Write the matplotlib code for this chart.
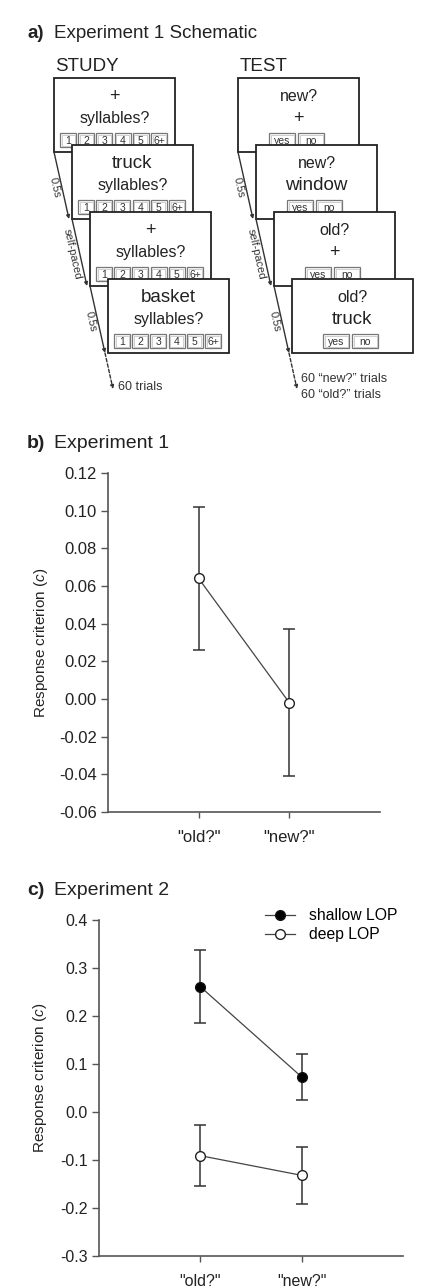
import matplotlib
matplotlib.use("Agg")
import matplotlib.pyplot as plt
import numpy as np
from matplotlib.patches import Rectangle

# ============================================================
# data
# ============================================================
conditions = ['"old?"', '"new?"']

exp1_mean = [0.064, -0.002]
exp1_err = [0.038, 0.039]

shallow_mean = [0.261, 0.073]
shallow_err = [0.076, 0.048]
deep_mean = [-0.091, -0.132]
deep_err = [0.064, 0.060]

exp1_yticks = [-0.06, -0.04, -0.02, 0.00, 0.02, 0.04, 0.06, 0.08, 0.10, 0.12]
exp2_yticks = [-0.3, -0.2, -0.1, 0.0, 0.1, 0.2, 0.3, 0.4]

# schematic content
study_line1 = ["+", "truck", "+", "basket"]
study_line2 = ["syllables?"] * 4
study_buttons = ["1", "2", "3", "4", "5", "6+"]
test_line1 = ["new?", "new?", "old?", "old?"]
test_line2 = ["+", "window", "+", "truck"]
test_buttons = ["yes", "no"]
timing = ["0.5s", "self-paced", "0.5s"]

# ============================================================
# style
# ============================================================
plt.rcParams["font.family"] = ["Liberation Sans", "DejaVu Sans"]
plt.rcParams["mathtext.fontset"] = "custom"
plt.rcParams["mathtext.rm"] = "Liberation Sans"
plt.rcParams["mathtext.it"] = "Liberation Sans:italic"

TXT = "#222222"
AX = "#555555"
W, H = 433, 1288

fig = plt.figure(figsize=(W / 100, H / 100), dpi=100)

# overlay in pixel coordinates for schematic and panel titles
ax_a = fig.add_axes([0, 0, 1, 1])
ax_a.set_xlim(0, W)
ax_a.set_ylim(H, 0)
ax_a.axis("off")

for letter, title, y, fs in [("a)", "Experiment 1 Schematic", 33, 13.5),
                             ("b)", "Experiment 1", 443, 14),
                             ("c)", "Experiment 2", 890, 14)]:
    ax_a.text(27, y, letter, fontsize=fs, fontweight="bold", color=TXT,
              va="center", ha="left")
    ax_a.text(54, y, title, fontsize=fs, color=TXT, va="center", ha="left")

# ------------------------------------------------------------
# schematic
# ------------------------------------------------------------
BOX_W, BOX_H = 121, 74
STEP_X, STEP_Y = 18, 67
BOX_Y0 = 78


def draw_column(x0, line1, line2, fs1, fs2, buttons, btn_x, btn_w):
    for i in range(4):
        bx = x0 + i * STEP_X
        by = BOX_Y0 + i * STEP_Y
        z = 2 + i * 3
        ax_a.add_patch(Rectangle((bx, by), BOX_W, BOX_H, facecolor="white",
                                 edgecolor="#222222", lw=1.3, zorder=z))
        ax_a.text(bx + BOX_W / 2, by + 18, line1[i], fontsize=fs1[i],
                  color=TXT, ha="center", va="center", zorder=z + 1)
        ax_a.text(bx + BOX_W / 2, by + 40, line2[i], fontsize=fs2[i],
                  color=TXT, ha="center", va="center", zorder=z + 1)
        for lab, ox, w in zip(buttons, btn_x, btn_w):
            ax_a.add_patch(Rectangle((bx + ox, by + 55), w, 14,
                                     facecolor="white", edgecolor="#777777",
                                     lw=0.9, zorder=z + 1))
            ax_a.add_patch(Rectangle((bx + ox + 1.5, by + 56.5), w - 3, 11,
                                     facecolor="none", edgecolor="#bbbbbb",
                                     lw=0.5, zorder=z + 1))
            ax_a.text(bx + ox + w / 2, by + 62.5, lab, fontsize=7.5,
                      color="#333333", ha="center", va="center", zorder=z + 2)

    # timing arrows between screens
    for i in range(3):
        x1 = x0 + i * STEP_X
        y1 = BOX_Y0 + i * STEP_Y + BOX_H
        x2 = x0 + (i + 1) * STEP_X - 3
        y2 = y1 + STEP_Y
        ax_a.annotate("", xy=(x2, y2), xytext=(x1, y1),
                      arrowprops=dict(arrowstyle="-|>", color="#333333",
                                      lw=1.0, mutation_scale=5,
                                      shrinkA=0, shrinkB=0), zorder=20)
        d = np.array([x2 - x1, y2 - y1], dtype=float)
        d /= np.hypot(*d)
        ang = np.degrees(np.arctan2(d[1], d[0]))
        mx, my = (x1 + x2) / 2 - 7 * d[1], (y1 + y2) / 2 + 7 * d[0]
        ax_a.text(mx, my, timing[i], fontsize=8, color="#333333",
                  rotation=-ang, rotation_mode="anchor",
                  ha="center", va="center", zorder=20)

    # dashed continuation
    x1 = x0 + 3 * STEP_X - 3
    y1 = BOX_Y0 + 3 * STEP_Y + BOX_H
    ax_a.annotate("", xy=(x1 + 8, y1 + 36), xytext=(x1, y1),
                  arrowprops=dict(arrowstyle="-|>", color="#333333", lw=1.0,
                                  ls=(0, (2.5, 1.5)), mutation_scale=5,
                                  shrinkA=0, shrinkB=0), zorder=20)
    return x1 + 12, y1


# study column
sx, sy = draw_column(54, study_line1, study_line2,
                     [13, 13.5, 13, 13.5], [11.5] * 4,
                     study_buttons, [6 + k * 18.2 for k in range(6)], [16] * 6)
ax_a.text(55, 66, "STUDY", fontsize=13.5, color=TXT, va="center", ha="left")
ax_a.text(sx + 1, sy + 34, "60 trials", fontsize=9, color="#333333",
          va="center", ha="left")

# test column
tx, ty = draw_column(238, test_line1, test_line2,
                     [11.5] * 4, [13, 13.5, 13, 13.5],
                     test_buttons, [31, 60], [26, 26])
ax_a.text(240, 66, "TEST", fontsize=13.5, color=TXT, va="center", ha="left")
ax_a.text(tx, ty + 26, "60 \u201cnew?\u201d trials", fontsize=9,
          color="#333333", va="center", ha="left")
ax_a.text(tx, ty + 42, "60 \u201cold?\u201d trials", fontsize=9,
          color="#333333", va="center", ha="left")


# ------------------------------------------------------------
# criterion panels
# ------------------------------------------------------------
def style_axis(ax, yticks, fmt, fs, lab_x, lab_y):
    for s in ["top", "right"]:
        ax.spines[s].set_visible(False)
    for s in ["left", "bottom"]:
        ax.spines[s].set_color(AX)
        ax.spines[s].set_linewidth(1.2)
    ax.set_xlim(0, 3)
    ax.set_xticks([1, 2])
    ax.set_xticklabels(conditions, fontsize=fs, color=TXT)
    ax.set_yticks(yticks)
    ax.set_yticklabels([fmt % v for v in yticks], fontsize=fs, color=TXT)
    ax.set_ylim(yticks[0], yticks[-1])
    ax.tick_params(axis="y", length=5, width=1, color=AX, pad=3)
    ax.tick_params(axis="x", length=4, width=1, color=AX, pad=9)
    ax.set_ylabel("Response criterion ($c$)", fontsize=11, color=TXT)
    ax.yaxis.set_label_coords(lab_x, lab_y)
    ax.patch.set_alpha(0)


x = np.arange(1, len(conditions) + 1)

ax_b = fig.add_axes([108 / W, 1 - 812 / H, 272 / W, 339 / H])
ax_b.errorbar(x, exp1_mean, yerr=exp1_err, fmt="none", ecolor="#333333",
              elinewidth=1.1, capsize=4, capthick=1.1, zorder=2)
ax_b.plot(x, exp1_mean, "-o", color="#444444", lw=0.9, ms=7,
          mfc="white", mec="#222222", mew=1.0, zorder=3)
style_axis(ax_b, exp1_yticks, "%.2f", 12, -0.215, 0.5)

ax_c = fig.add_axes([99 / W, 1 - 1256 / H, 304 / W, 336 / H])
ax_c.errorbar(x, shallow_mean, yerr=shallow_err, fmt="none", ecolor="#333333",
              elinewidth=1.1, capsize=4, capthick=1.1, zorder=2)
ax_c.errorbar(x, deep_mean, yerr=deep_err, fmt="none", ecolor="#333333",
              elinewidth=1.1, capsize=4, capthick=1.1, zorder=2)
ax_c.plot(x, shallow_mean, "-o", color="#444444", lw=0.9, ms=7,
          mfc="black", mec="#111111", mew=1.0, zorder=3, label="shallow LOP")
ax_c.plot(x, deep_mean, "-o", color="#444444", lw=0.9, ms=7,
          mfc="white", mec="#222222", mew=1.0, zorder=3, label="deep LOP")
style_axis(ax_c, exp2_yticks, "%.1f", 11.5, -0.163, 0.53)
ax_c.legend(loc="upper left", bbox_to_anchor=(0.545, 1.035), frameon=False,
            fontsize=11.3, handlelength=1.95, handletextpad=0.85,
            labelspacing=0.25, borderpad=0, borderaxespad=0)

fig.savefig("out.png", dpi=100)
plt.close(fig)
